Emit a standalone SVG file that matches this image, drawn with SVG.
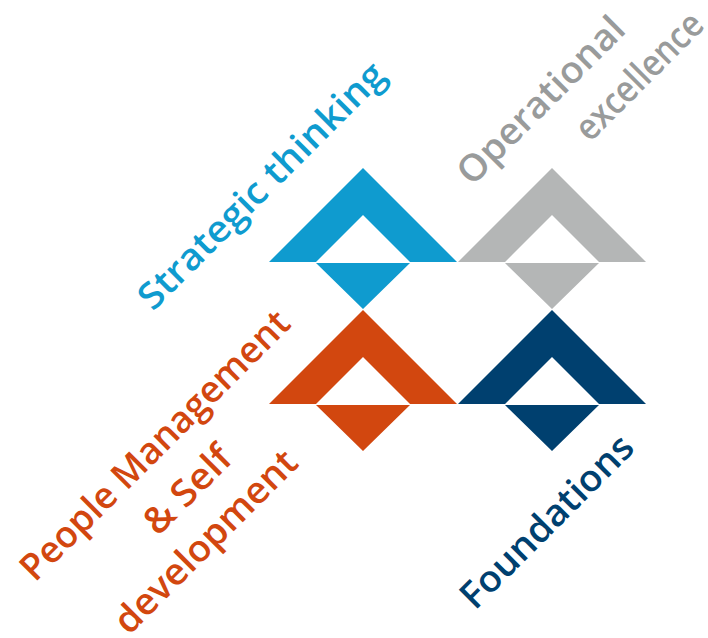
<svg xmlns="http://www.w3.org/2000/svg" width="708" height="638" viewBox="0 0 708 638">
<style>text{font-family:"Open Sans","Noto Sans",sans-serif;font-size:37px;font-weight:600}.b{fill:#0f9bcf}.g{fill:#b4b6b6}.o{fill:#d2470f}.n{fill:#00406f}.tg{fill:#999b9b}</style>
<defs><path id="m" d="M0 0L94 94H47L0 47L-47 94H-94ZM-47 95H47L0 141Z"/></defs>
<rect width="708" height="638" fill="#fff"/>
<g id="node-strategic"><use href="#m" x="363" y="168" class="b"/><text class="b" textLength="332" lengthAdjust="spacingAndGlyphs" transform="translate(153 312) rotate(-45)">Strategic thinking</text></g>
<g id="node-operational"><use href="#m" x="552" y="168" class="g"/><text class="tg" textLength="220" lengthAdjust="spacingAndGlyphs" transform="translate(472 187) rotate(-45)">Operational</text><text class="tg" textLength="164" lengthAdjust="spacingAndGlyphs" transform="translate(590 143) rotate(-45)">excellence</text></g>
<g id="node-people"><use href="#m" x="363" y="310" class="o"/><text class="o" textLength="364" lengthAdjust="spacingAndGlyphs" transform="translate(35 583) rotate(-45)">People Management</text><text class="o" textLength="108" lengthAdjust="spacingAndGlyphs" transform="translate(158 537) rotate(-45)">&amp; Self</text><text class="o" textLength="242" lengthAdjust="spacingAndGlyphs" transform="translate(129 636) rotate(-45)">development</text></g>
<g id="node-foundations"><use href="#m" x="552" y="310" class="n"/><text class="n" textLength="228" lengthAdjust="spacingAndGlyphs" transform="translate(475 611) rotate(-45)">Foundations</text></g>
<g id="connectors"/>
</svg>
